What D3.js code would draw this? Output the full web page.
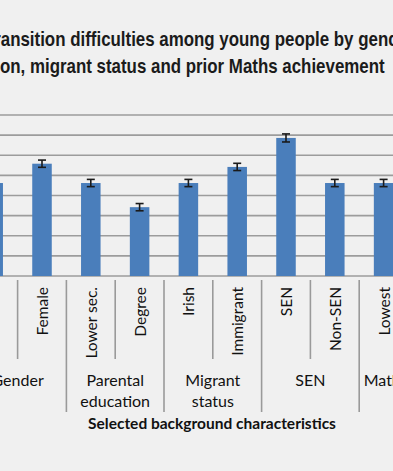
<!DOCTYPE html>
<html>
<head>
<meta charset="utf-8">
<script src="https://cdn.jsdelivr.net/npm/d3@7"></script>
<style>
  html, body { margin: 0; padding: 0; background: #f0f0f0; }
  svg { display: block; }
  .title { font-family: "Liberation Sans", Arial, sans-serif; font-weight: bold; fill: #1b1b1b; }
  .lbl { font-family: Lato, "Open Sans", sans-serif; fill: #111; }
</style>
</head>
<body>
<svg id="chart" width="393" height="471"></svg>
<script>
// CHART.JS

const categories = ['Male', 'Female', 'Lower sec.', 'Degree', 'Irish', 'Immigrant', 'SEN', 'Non-SEN', 'Lowest', 'Middle', 'Highest'];
const groupOf = [0, 0, 1, 1, 2, 2, 3, 3, 4, 4, 4];
const groupLines = [['Gender'], ['Parental', 'education'], ['Migrant', 'status'], ['SEN'], ['Maths achievement']];
const values = [23.1, 27.9, 23.1, 17.1, 23.1, 27.1, 34.3, 23.1, 23.1, 20.6, 18.2];
const errors = [0.9, 0.9, 0.9, 0.9, 0.9, 0.9, 1.0, 0.9, 0.9, 0.9, 0.9];
const yTicks = [0, 5, 10, 15, 20, 25, 30, 35, 40];
const titleLines = ['Figure 6.2: Transition difficulties among young people by gender, parental',
                    'education, migrant status and prior Maths achievement'];
const axisTitle = 'Selected background characteristics';

const AXIS_Y = 276;
const TOP_Y = 115;
const STEP = 48.8;
const TITLE_SIZE = 20;
const colors = {
    bar: '#4a7ebb',
    grid: '#9c9c9c',
    tick: '#9a9a9a',
    error: '#1a1a1a'
};

const svg = d3.select('#chart');

const x = d3.scaleBand()
    .domain(categories)
    .range([-31.2, -31.2 + STEP * categories.length])
    .paddingInner(0.6)
    .paddingOuter(0.3);

const y = d3.scaleLinear()
    .domain([0, 40])
    .range([AXIS_Y, TOP_Y]);

// title: bold, squeezed to look like a narrow face; cut by the window on both sides
function textWidth(str) {
    const t = svg.append('text').attr('class', 'title').attr('font-size', TITLE_SIZE).text(str);
    const w = t.node().getComputedTextLength();
    t.remove();
    return w;
}
const squeeze = 385 / textWidth('on, migrant status and prior Maths achievement');
const title = svg.append('g').attr('transform', `scale(${squeeze},1)`);
title.append('text').attr('class', 'title').attr('font-size', TITLE_SIZE)
    .attr('x', -textWidth('Figure 6.2: Tr') + 1).attr('y', 46)
    .text(titleLines[0]);
title.append('text').attr('class', 'title').attr('font-size', TITLE_SIZE)
    .attr('x', -textWidth('educati')).attr('y', 73)
    .text(titleLines[1]);

// gridlines
svg.append('g')
    .selectAll('line')
    .data(yTicks)
    .join('line')
    .attr('x1', 0).attr('x2', 393)
    .attr('y1', d => y(d)).attr('y2', d => y(d))
    .attr('stroke', colors.grid)
    .attr('stroke-width', 1.6);

// bars
svg.append('g')
    .selectAll('rect')
    .data(categories)
    .join('rect')
    .attr('x', d => x(d))
    .attr('width', x.bandwidth())
    .attr('y', (d, i) => y(values[i]))
    .attr('height', (d, i) => y(0) - y(values[i]))
    .attr('fill', colors.bar);

// error bars
const err = svg.append('g')
    .attr('stroke', colors.error)
    .attr('stroke-width', 1.6);
categories.forEach((c, i) => {
    const cx = x(c) + x.bandwidth() / 2;
    const lo = y(values[i] - errors[i]);
    const hi = y(values[i] + errors[i]);
    err.append('line').attr('x1', cx).attr('x2', cx).attr('y1', lo).attr('y2', hi);
    err.append('line').attr('x1', cx - 4).attr('x2', cx + 4).attr('y1', lo).attr('y2', lo);
    err.append('line').attr('x1', cx - 4).attr('x2', cx + 4).attr('y1', hi).attr('y2', hi);
});

// separators below the axis: short inside a group, long between groups
const bounds = d3.range(categories.length + 1);
svg.append('g')
    .selectAll('line')
    .data(bounds)
    .join('line')
    .attr('x1', i => x.range()[0] + i * x.step())
    .attr('x2', i => x.range()[0] + i * x.step())
    .attr('y1', AXIS_Y + 4)
    .attr('y2', i => (i === 0 || i === categories.length || groupOf[i] !== groupOf[i - 1]) ? 412 : 359)
    .attr('stroke', colors.tick)
    .attr('stroke-width', 1.6);

// category labels, rotated
svg.append('g')
    .selectAll('text')
    .data(categories)
    .join('text')
    .attr('class', 'lbl')
    .attr('font-size', 15.5)
    .attr('text-anchor', 'end')
    .attr('dominant-baseline', 'central')
    .attr('transform', d => `translate(${x(d) + x.bandwidth() / 2},287) rotate(-90)`)
    .text(d => d);

// group labels
groupLines.forEach((lines, g) => {
    const idx = d3.range(categories.length).filter(i => groupOf[i] === g);
    const left = x.range()[0] + idx[0] * x.step();
    const right = x.range()[0] + (idx[idx.length - 1] + 1) * x.step();
    svg.append('text')
        .attr('class', 'lbl')
        .attr('font-size', 16)
        .attr('text-anchor', 'middle')
        .selectAll('tspan')
        .data(lines)
        .join('tspan')
        .attr('x', (left + right) / 2)
        .attr('y', (d, k) => 386 + k * 20.5)
        .text(d => d);
});

svg.append('text')
    .attr('class', 'lbl')
    .attr('font-size', 15.5)
    .attr('font-weight', 'bold')
    .attr('text-anchor', 'middle')
    .attr('x', 212)
    .attr('y', 429)
    .text(axisTitle);
</script>
</body>
</html>
